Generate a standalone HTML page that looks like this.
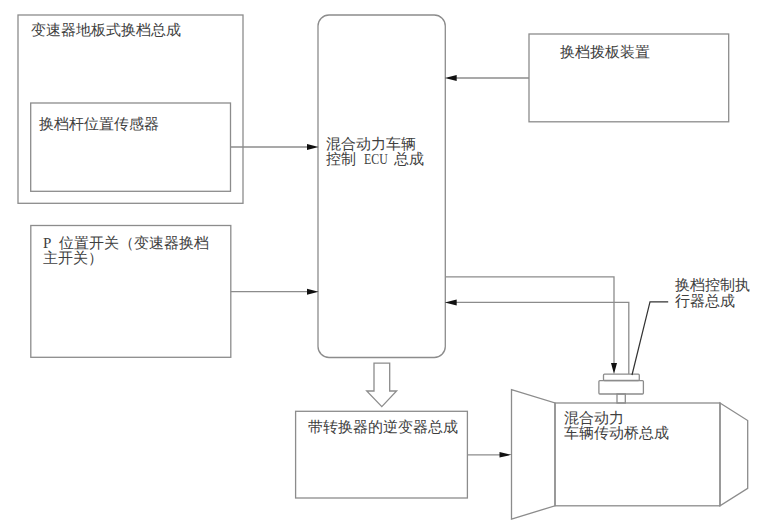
<!DOCTYPE html>
<html><head><meta charset="utf-8">
<style>
html,body{margin:0;padding:0;background:#fff;}
body{width:767px;height:524px;position:relative;overflow:hidden;font-family:"Liberation Serif",serif;}
svg{position:absolute;left:0;top:0;}
.t{position:absolute;font-size:15px;line-height:15px;color:#404040;white-space:nowrap;}
.e{display:inline-block;transform:scaleX(0.79);transform-origin:0 0;width:22.5px;}
</style></head>
<body>
<svg width="767" height="524" viewBox="0 0 767 524">
<g fill="none" stroke="#8c8c8c" stroke-width="1.3">
  <!-- box 1 outer -->
  <rect x="18" y="15" width="225" height="188.3"/>
  <!-- sensor box -->
  <rect x="30.7" y="103" width="199.8" height="88.3"/>
  <!-- P switch box -->
  <rect x="30.8" y="225.5" width="200" height="131.8"/>
  <!-- ECU -->
  <rect x="318" y="15" width="127.3" height="342.5" rx="11" ry="11"/>
  <!-- shift plate box -->
  <rect x="529" y="34" width="199.7" height="87.8"/>
  <!-- inverter -->
  <rect x="295.6" y="411.3" width="171.8" height="86.7"/>
  <!-- motor -->
  <polygon points="511.5,389.7 555,403 555,505.8 511.5,519"/>
  <rect x="555" y="403" width="165" height="102.8"/>
  <polygon points="720,403 747.7,420.5 747.7,488.4 720,505.8"/>
  <!-- actuator -->
  <rect x="603.5" y="374.2" width="35.8" height="6.3" rx="1"/>
  <rect x="598.9" y="380.6" width="44.5" height="13.4" rx="1"/>
  <rect x="617" y="394" width="8.3" height="9"/>
  <!-- block arrow -->
  <polygon points="374,363.2 389.7,363.2 389.7,391 396.6,391 381.8,406.6 366.7,391 374,391"/>
  <!-- connectors -->
  <line x1="230.5" y1="147" x2="308" y2="147"/>
  <line x1="230.8" y1="291.7" x2="308" y2="291.7"/>
  <line x1="529" y1="78" x2="456" y2="78"/>
  <polyline points="445.3,276.8 614,276.8 614,364"/>
  <polyline points="628.8,374 628.8,302.4 456,302.4"/>
  <line x1="467.4" y1="454.8" x2="500" y2="454.8"/>
</g>
<g fill="#111" stroke="none">
  <polygon points="307,144 318.6,147 307,150"/>
  <polygon points="307,288.7 318.6,291.7 307,294.7"/>
  <polygon points="456.7,75 444.8,78 456.7,81"/>
  <polygon points="456.7,299.4 444.8,302.4 456.7,305.4"/>
  <polygon points="611,363 617,363 614,374"/>
  <polygon points="499.5,452 511.5,454.8 499.5,457.6"/>
</g>
<polyline points="632,375 650,301.8 668.2,301.8" fill="none" stroke="#333" stroke-width="1.2"/>
</svg>

<div class="t" style="left:30.8px;top:22.5px">变速器地板式换档总成</div>
<div class="t" style="left:39px;top:116.5px">换档杆位置传感器</div>
<div class="t" style="left:43px;top:235.5px">P<span style="display:inline-block;width:7.5px"></span><span style="margin-left:7.5px;margin-left:0">位置开关（变速器换档</span><br>主开关）</div>
<div class="t" style="left:326px;top:137px">混合动力车辆<br>控制<span style="display:inline-block;width:7.5px"></span><span class="e">ECU</span><span style="display:inline-block;width:7.5px"></span>总成</div>
<div class="t" style="left:559.5px;top:45px">换档拨板装置</div>
<div class="t" style="left:308px;top:419.5px">带转换器的逆变器总成</div>
<div class="t" style="left:563.5px;top:410.6px">混合动力<br>车辆传动桥总成</div>
<div class="t" style="left:674.5px;top:277.8px;line-height:15.7px">换档控制执<br>行器总成</div>
</body></html>
